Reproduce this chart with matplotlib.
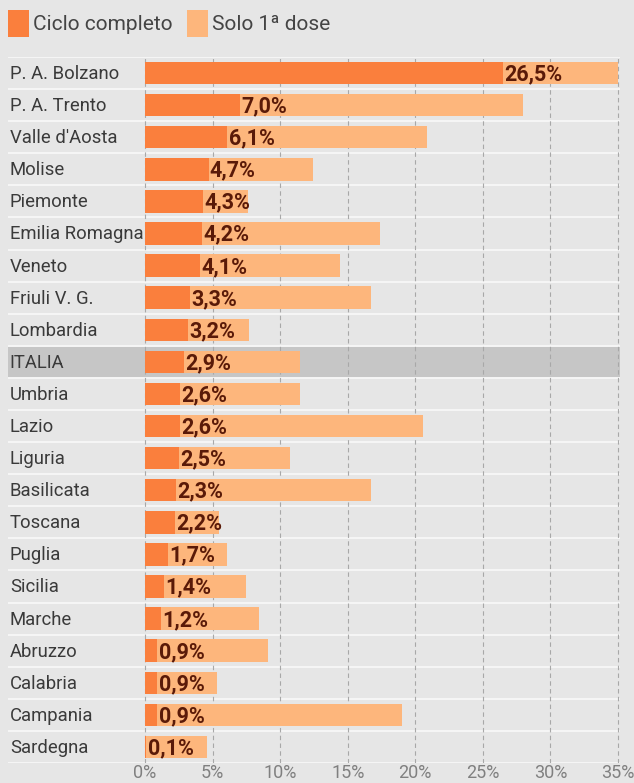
import numpy as np
import matplotlib
matplotlib.use("Agg")
import matplotlib.pyplot as plt
from matplotlib.patches import Patch

# data (percent)
regions = ["P. A. Bolzano", "P. A. Trento", "Valle d'Aosta", "Molise", "Piemonte",
           "Emilia Romagna", "Veneto", "Friuli V. G.", "Lombardia", "ITALIA",
           "Umbria", "Lazio", "Liguria", "Basilicata", "Toscana", "Puglia",
           "Sicilia", "Marche", "Abruzzo", "Calabria", "Campania", "Sardegna"]
ciclo_completo = [26.5, 7.0, 6.1, 4.7, 4.3, 4.2, 4.1, 3.3, 3.2, 2.9, 2.6, 2.6,
                  2.5, 2.3, 2.2, 1.7, 1.4, 1.2, 0.9, 0.9, 0.9, 0.1]
solo_prima_dose = [8.5, 21.0, 14.8, 7.7, 3.3, 13.2, 10.3, 13.4, 4.5, 8.6, 8.9, 18.0,
                   8.2, 14.4, 3.3, 4.4, 6.1, 7.2, 8.2, 4.4, 18.1, 4.5]
xticks = [0, 5, 10, 15, 20, 25, 30, 35]
xtick_labels = ["0%", "5%", "10%", "15%", "20%", "25%", "30%", "35%"]

BG = "#e6e6e6"
DARK = "#fa7f3d"
LIGHT = "#fdb67c"
TXT = "#3a3a3a"
VAL = "#5a1a08"

plt.rcParams["font.family"] = ["Roboto", "DejaVu Sans"]

fig = plt.figure(figsize=(6.34, 7.83), dpi=100, facecolor=BG)
ax = fig.add_axes([8 / 634, 20 / 783, 612 / 634, 706 / 783], facecolor=BG)

n = len(regions)
y = np.arange(n)
italia = regions.index("ITALIA")

ax.axhspan(italia - 0.5, italia + 0.5, color="#c6c6c6", zorder=0.5, lw=0)
for k in range(n + 1):
    ax.axhline(k - 0.5, color="#f6f6f6", lw=1.4, zorder=0.8)
for t in xticks:
    ax.axvline(t, color="#a8a8a8", lw=0.8, ls=(0, (4, 3)), zorder=1)

ax.barh(y, ciclo_completo, height=0.7, color=DARK, zorder=2)
ax.barh(y, solo_prima_dose, left=ciclo_completo, height=0.7, color=LIGHT, zorder=2)

for i, (name, v) in enumerate(zip(regions, ciclo_completo)):
    ax.text(-10.0, i + 0.03, name, va="center", ha="left", fontsize=13.3, color=TXT, zorder=3)
    ax.text(v + 0.1, i + 0.04, f"{v:.1f}%".replace(".", ","), va="center", ha="left",
            fontsize=15.5, fontweight="bold", color=VAL, zorder=3)

ax.set_xlim(-137 / 13.514, 475 / 13.514)
ax.set_ylim(n - 0.5, -0.5)
ax.set_xticks(xticks)
ax.set_xticklabels(xtick_labels, fontsize=13, color="#808080")
ax.tick_params(axis="x", length=0, pad=1)
ax.set_yticks([])
for s in ax.spines.values():
    s.set_visible(False)

handles = [Patch(facecolor=DARK, edgecolor="none"), Patch(facecolor=LIGHT, edgecolor="none")]
fig.legend(handles, ["Ciclo completo", "Solo 1ª dose"], loc="upper left",
           bbox_to_anchor=(8 / 634, 1 - 10 / 783), ncol=2, frameon=False, fontsize=15,
           handlelength=1.0, handleheight=1.6, handletextpad=0.2, columnspacing=0.7,
           labelcolor="#444444", borderaxespad=0, borderpad=0)

fig.savefig("out.png", dpi=100, facecolor=BG)
